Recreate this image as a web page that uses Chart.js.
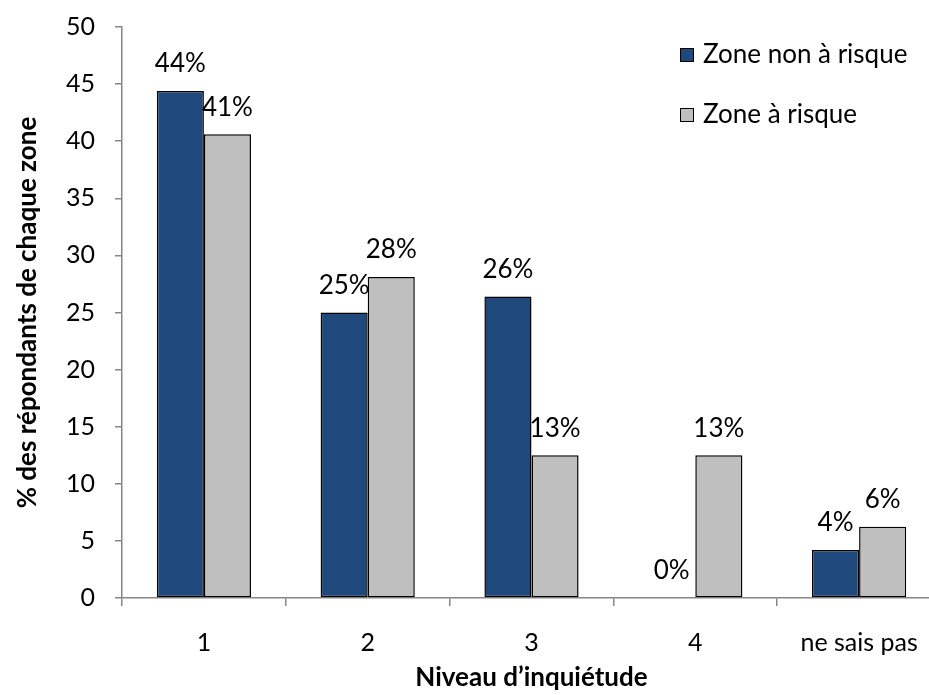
<!DOCTYPE html>
<html>
<head>
<meta charset="utf-8">
<script src="https://cdn.jsdelivr.net/npm/chart.js@4/dist/chart.umd.min.js"></script>
<style>
  html, body { margin: 0; padding: 0; background: #fff; overflow: hidden; }
  #wrap { width: 941px; height: 695px; }
</style>
</head>
<body>
<div id="wrap"><canvas id="c" width="941" height="695"></canvas></div>
<script>
// ── Données ─────────────────────────────────────────
const categories   = ['1', '2', '3', '4', 'ne sais pas'];
const seriesNames  = ['Zone non à risque', 'Zone à risque'];
const nonRisque    = [44.4, 25.0, 26.4, 0, 4.2];
const risque       = [40.6, 28.1, 12.5, 12.5, 6.25];
const yTicks       = [0, 5, 10, 15, 20, 25, 30, 35, 40, 45, 50];

const FONT  = 'Lato, "Open Sans", sans-serif';
const DARK  = '#1f497d';
const GRAY  = '#bfbfbf';
const AXIS  = '#868686';

// Étiquettes % au-dessus des barres
const pctPlugin = {
    id: 'pctLabel',
    afterDatasetsDraw(chart) {
        const { ctx } = chart;
        ctx.save();
        ctx.fillStyle = '#000';
        ctx.font = '26px ' + FONT;
        ctx.textAlign = 'center';
        ctx.textBaseline = 'middle';
        chart.data.datasets.forEach((ds, di) => {
            const meta = chart.getDatasetMeta(di);
            ds.data.forEach((v, i) => {
                const el = meta.data[i];
                ctx.fillText(Math.round(v) + '%', el.x, el.y - 27);
            });
        });
        ctx.restore();
    }
};

// Légende dessinée à la main (en haut à droite)
const legendPlugin = {
    id: 'manualLegend',
    afterDraw(chart) {
        const { ctx } = chart;
        const cols = [DARK, GRAY];
        ctx.save();
        ctx.font = '26px ' + FONT;
        ctx.textBaseline = 'middle';
        ctx.textAlign = 'left';
        seriesNames.forEach((name, i) => {
            const y = 55 + i * 60;
            ctx.fillStyle = cols[i];
            ctx.fillRect(680, y - 7, 14, 14);
            ctx.strokeStyle = '#000';
            ctx.lineWidth = 1;
            ctx.strokeRect(680.5, y - 6.5, 13, 13);
            ctx.fillStyle = '#000';
            ctx.fillText(name, 703, y);
        });
        ctx.restore();
    }
};

new Chart(document.getElementById('c'), {
    type: 'bar',
    data: {
        labels: categories,
        datasets: [
            { label: seriesNames[0], data: nonRisque, backgroundColor: DARK,
              borderColor: '#000', borderWidth: 1.5, borderSkipped: false },
            { label: seriesNames[1], data: risque, backgroundColor: GRAY,
              borderColor: '#000', borderWidth: 1.5, borderSkipped: false }
        ]
    },
    options: {
        responsive: false,
        animation: false,
        layout: { padding: { top: 27, right: 0, left: 0, bottom: 0 } },
        datasets: { bar: { categoryPercentage: 0.575, barPercentage: 1 } },
        plugins: { legend: { display: false }, tooltip: { enabled: false } },
        scales: {
            x: {
                grid: { offset: true, drawOnChartArea: false, color: AXIS, tickLength: 8, lineWidth: 1.5 },
                border: { color: AXIS, width: 1.5 },
                ticks: { color: '#000', font: { family: FONT, size: 25 }, padding: 22 },
                title: { display: true, text: 'Niveau d’inquiétude', color: '#000',
                         font: { family: FONT, size: 26, weight: 'bold' }, padding: { top: 4, bottom: 2 } },
                afterFit: s => { s.height = 97; s.paddingLeft = 0; s.paddingRight = 0; }
            },
            y: {
                min: 0, max: 50,
                afterBuildTicks: s => { s.ticks = yTicks.map(v => ({ value: v })); },
                grid: { drawOnChartArea: false, color: AXIS, tickLength: 7, lineWidth: 1.5 },
                border: { color: AXIS, width: 1.5 },
                ticks: { color: '#000', font: { family: FONT, size: 25 }, padding: 20 },
                title: { display: true, text: '% des répondants de chaque zone', color: '#000',
                         font: { family: FONT, size: 26, weight: 'bold' }, padding: { top: 12, bottom: 4 } },
                afterFit: s => { s.width = 122; s.paddingTop = 0; s.paddingBottom = 0; }
            }
        }
    },
    plugins: [pctPlugin, legendPlugin]
});
</script>
</body>
</html>
